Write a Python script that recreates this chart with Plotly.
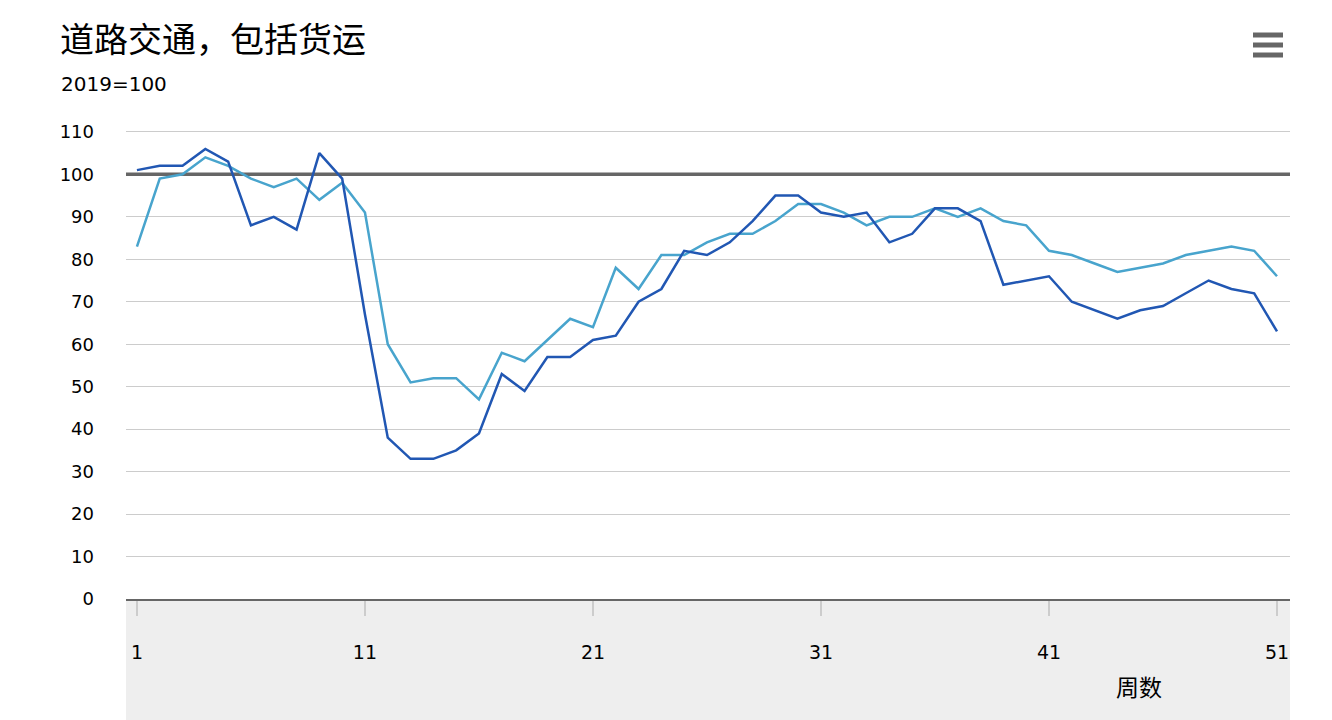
import plotly.graph_objects as go

# week numbers and index values (2019 = 100)
weeks = list(range(1, 52))
dark_vals = [101, 102, 102, 106, 103, 88, 90, 87, 105, 99,
             67, 38, 33, 33, 35, 39, 53, 49, 57, 57,
             61, 62, 70, 73, 82, 81, 84, 89, 95, 95,
             91, 90, 91, 84, 86, 92, 92, 89, 74, 75,
             76, 70, 68, 66, 68, 69, 72, 75, 73, 72, 63]
light_vals = [83, 99, 100, 104, 102, 99, 97, 99, 94, 98,
              91, 60, 51, 52, 52, 47, 58, 56, 61, 66,
              64, 78, 73, 81, 81, 84, 86, 86, 89, 93,
              93, 91, 88, 90, 90, 92, 90, 92, 89, 88,
              82, 81, 79, 77, 78, 79, 81, 82, 83, 82, 76]
baseline = 100
x_ticks = [1, 11, 21, 31, 41, 51]
y_ticks = [0, 10, 20, 30, 40, 50, 60, 70, 80, 90, 100, 110]

title = "道路交通，包括货运"
subtitle = "2019=100"
x_title = "周数"

W, H = 1332, 720
L, R, T, B = 126, 42, 120, 121
PW, PH = W - L - R, H - T - B
FONT = "DejaVu Sans, Noto Sans CJK SC, sans-serif"


def px(x):
    return (x - L) / PW


def py(y):
    return (H - B - y) / PH


fig = go.Figure()

# 2019 baseline, drawn first so it sits above the grid and under the data
fig.add_trace(go.Scatter(
    x=[weeks[0] - 1, weeks[-1] + 1], y=[baseline, baseline], mode="lines",
    line=dict(color="#666666", width=3.5), hoverinfo="skip", name="baseline",
))
fig.add_trace(go.Scatter(
    x=weeks, y=light_vals, mode="lines",
    line=dict(color="#48a4cd", width=2.5), name="light",
))
fig.add_trace(go.Scatter(
    x=weeks, y=dark_vals, mode="lines",
    line=dict(color="#2157b3", width=2.5), name="dark",
))

shapes = [
    # grey band behind the x axis labels
    dict(type="rect", xref="paper", yref="paper", x0=0, x1=1, y0=py(H + 5), y1=0,
         fillcolor="#eeeeee", line=dict(width=0), layer="below"),
]
# hamburger menu icon
for yy in [35, 45, 55]:
    shapes.append(dict(type="line", xref="paper", yref="paper",
                       x0=px(1253), x1=px(1283), y0=py(yy), y1=py(yy),
                       line=dict(color="#666666", width=5)))

annotations = [
    dict(text=title, xref="paper", yref="paper", x=px(58), y=py(40),
         xanchor="left", yanchor="middle", showarrow=False,
         font=dict(size=34, color="#000000", family=FONT)),
    dict(text=subtitle, xref="paper", yref="paper", x=px(59), y=py(84),
         xanchor="left", yanchor="middle", showarrow=False,
         font=dict(size=20, color="#000000", family=FONT)),
    dict(text=x_title, xref="paper", yref="paper", x=px(1139), y=py(688),
         xanchor="center", yanchor="middle", showarrow=False,
         font=dict(size=23, color="#000000", family=FONT)),
]

fig.update_layout(
    width=W, height=H,
    margin=dict(l=L, r=R, t=T, b=B, pad=0),
    paper_bgcolor="white", plot_bgcolor="white",
    showlegend=False,
    shapes=shapes, annotations=annotations,
    font=dict(family=FONT, color="#000000"),
)
fig.update_xaxes(
    range=[0.52, 51.57], tickvals=x_ticks, ticktext=[str(t) for t in x_ticks],
    showgrid=False, zeroline=False,
    showline=True, linecolor="#666666", linewidth=2,
    ticks="outside", ticklen=15, tickwidth=1.5, tickcolor="#cccccc",
    ticklabelstandoff=20, tickfont=dict(size=19),
)
fig.update_yaxes(
    range=[0, 112.8], tickvals=y_ticks,
    showgrid=True, gridcolor="#cccccc", gridwidth=1, zeroline=False,
    showline=False, ticks="", ticklabelstandoff=31, tickfont=dict(size=18),
)

fig.write_html(
    "out.html",
    config={"displayModeBar": False},
    post_script="document.body.style.margin='0px';",
)
